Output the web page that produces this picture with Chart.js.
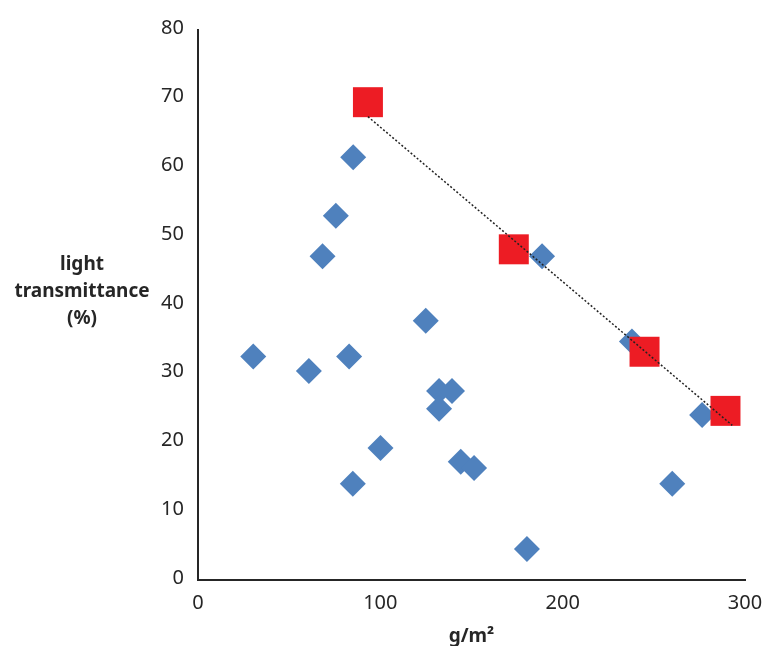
<!DOCTYPE html>
<html>
<head>
<meta charset="utf-8">
<script src="https://cdn.jsdelivr.net/npm/chart.js@4/dist/chart.umd.min.js"></script>
<style>
  html, body { margin: 0; padding: 0; background: #fff; }
  #wrap { width: 769px; height: 646px; }
</style>
</head>
<body>
<div id="wrap"><canvas id="chart" width="769" height="646"></canvas></div>
<script>
  // values
  const sampleX = [30.3, 60.8, 82.9, 84.9, 100.1, 85.1, 75.6, 68.3, 124.9, 132.2, 139.3, 132.2, 144.1, 151.4, 180.4, 188.7, 238.0, 260.1, 276.5];
  const sampleY = [32.5, 30.4, 32.5, 14.0, 19.2, 61.5, 53.0, 47.1, 37.7, 27.5, 27.5, 24.9, 17.2, 16.3, 4.5, 47.1, 34.7, 14.0, 24.0];
  const refX = [93.2, 173.2, 244.9, 289.3];
  const refY = [69.5, 48.1, 33.2, 24.6];
  const trendX = [93.2, 293.0];
  const trendY = [67.4, 22.5];
  const xTicks = [0, 100, 200, 300];
  const yTicks = [0, 10, 20, 30, 40, 50, 60, 70, 80];
  const yTitleLines = ['light', 'transmittance', '(%)'];
  const xTitle = 'g/m²';

  const toPoints = (xs, ys) => xs.map((x, i) => ({ x: x, y: ys[i] }));
  const fontFamily = '"Noto Sans", "Open Sans", sans-serif';

  // axis titles sit horizontally like the original, so they are drawn here
  const axisTitles = {
    id: 'axisTitles',
    afterDraw(chart) {
      const ctx = chart.ctx;
      const area = chart.chartArea;
      const mid = chart.scales.y.getPixelForValue(40);
      ctx.save();
      ctx.fillStyle = '#262626';
      ctx.font = 'bold 19px ' + fontFamily;
      ctx.textAlign = 'center';
      ctx.textBaseline = 'middle';
      yTitleLines.forEach((line, i) => {
        ctx.fillText(line, 82, mid - 13 + (i - 1) * 27);
      });
      ctx.fillText(xTitle, (area.left + area.right) / 2, area.bottom + 57);
      ctx.restore();
    }
  };

  new Chart(document.getElementById('chart'), {
    type: 'scatter',
    data: {
      datasets: [
        {
          label: 'trend',
          type: 'line',
          data: toPoints(trendX, trendY),
          borderColor: '#222222',
          borderWidth: 1.5,
          borderDash: [2, 2],
          pointRadius: 0,
          fill: false,
          order: 0
        },
        {
          label: 'reference',
          data: toPoints(refX, refY),
          pointStyle: 'rect',
          pointRadius: 21.2,
          pointHoverRadius: 21.2,
          backgroundColor: '#ED1C24',
          borderWidth: 0,
          order: 1
        },
        {
          label: 'samples',
          data: toPoints(sampleX, sampleY),
          pointStyle: 'rectRot',
          pointRadius: 13,
          pointHoverRadius: 13,
          backgroundColor: '#4F81BD',
          borderWidth: 0,
          order: 2
        }
      ]
    },
    options: {
      responsive: false,
      animation: false,
      events: [],
      layout: { padding: { top: 30, right: 24, bottom: 0, left: 0 } },
      plugins: {
        legend: { display: false },
        tooltip: { enabled: false }
      },
      scales: {
        x: {
          type: 'linear',
          min: 0,
          max: 300,
          afterBuildTicks(scale) { scale.ticks = xTicks.map(v => ({ value: v })); },
          afterFit(scale) {
            scale.height = 66;
            scale.paddingLeft = 0;
            scale.paddingRight = 0;
          },
          grid: { display: false, drawTicks: false },
          border: { display: true, color: '#262626', width: 2 },
          ticks: { color: '#262626', padding: 11, font: { family: fontFamily, size: 20 } }
        },
        y: {
          type: 'linear',
          min: 0,
          max: 80,
          afterBuildTicks(scale) { scale.ticks = yTicks.map(v => ({ value: v })); },
          afterFit(scale) {
            scale.width = 198;
            scale.paddingTop = 0;
            scale.paddingBottom = 0;
          },
          grid: { display: false, drawTicks: false },
          border: { display: true, color: '#262626', width: 2 },
          ticks: { color: '#262626', padding: 14, labelOffset: -2, font: { family: fontFamily, size: 20 } }
        }
      }
    },
    plugins: [axisTitles]
  });
</script>
</body>
</html>
